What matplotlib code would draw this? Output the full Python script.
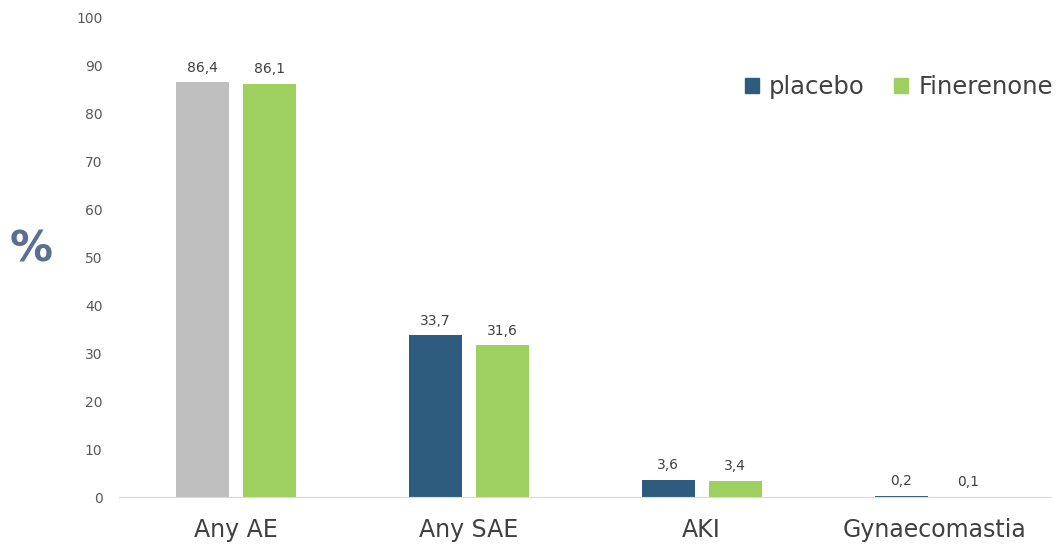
import numpy as np
import matplotlib.pyplot as plt
from matplotlib.patches import Patch

categories = ['Any AE', 'Any SAE', 'AKI', 'Gynaecomastia']
placebo = [86.4, 33.7, 3.6, 0.2]
finerenone = [86.1, 31.6, 3.4, 0.1]
yticks = [0, 10, 20, 30, 40, 50, 60, 70, 80, 90, 100]

c_placebo = '#2e5c7e'
c_fin = '#9dd05f'
c_gray = '#bfbfbf'

fig = plt.figure(figsize=(10.64, 5.55), dpi=100)
ax = fig.add_axes([0.112, 0.1045, 0.876, 0.8645])

x = np.arange(len(categories))
w = 0.227
off = 0.144
p_colors = [c_gray] + [c_placebo] * (len(categories) - 1)
b1 = ax.bar(x - off, placebo, w, color=p_colors, label='placebo')
b2 = ax.bar(x + off, finerenone, w, color=c_fin, label='Finerenone')

for bars, vals in [(b1, placebo), (b2, finerenone)]:
    for b, v in zip(bars, vals):
        ax.text(b.get_x() + b.get_width() / 2, v + 1.6, f'{v:.1f}'.replace('.', ','),
                ha='center', va='bottom', fontsize=10, color='#404040')

ax.set_xlim(-0.5, 3.5)
ax.set_ylim(0, 100)
ax.set_yticks(yticks)
ax.set_xticks(x)
ax.set_xticklabels(categories, fontsize=17, color='#404040')
ax.tick_params(axis='y', labelsize=10, colors='#595959', length=0, pad=12)
ax.tick_params(axis='x', length=0, pad=15)
for s in ['top', 'right', 'left']:
    ax.spines[s].set_visible(False)
ax.spines['bottom'].set_color('#d9d9d9')

fig.text(0.029, 0.55, '%', fontsize=31, fontweight='bold', color='#5b6e93',
         ha='center', va='center')

handles = [Patch(color=c_placebo), Patch(color=c_fin)]
ax.legend(handles, ['placebo', 'Finerenone'], loc='upper right', bbox_to_anchor=(1.025, 0.925),
          ncol=2, frameon=False, fontsize=17.5, handlelength=0.6, handleheight=0.6,
          handletextpad=0.4, columnspacing=1.2, labelcolor='#404040')

fig.savefig('out.png', dpi=100)
